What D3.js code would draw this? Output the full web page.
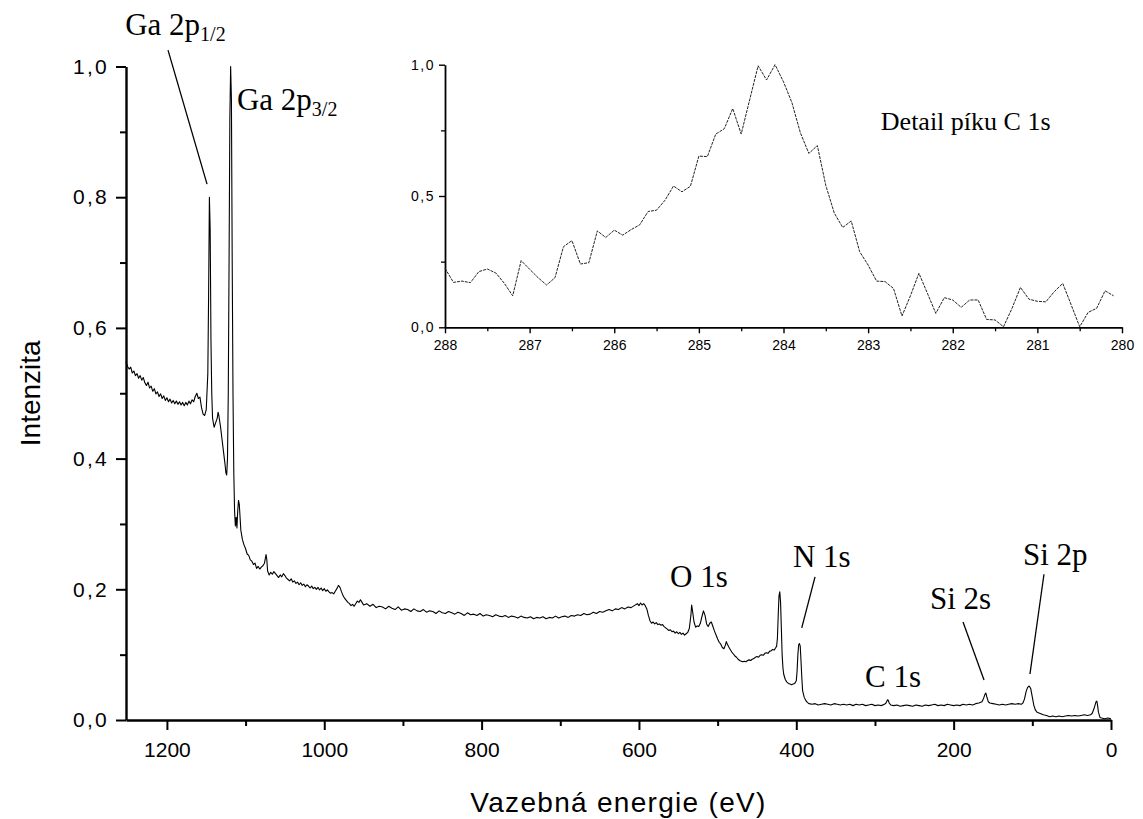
<!DOCTYPE html>
<html lang="cs">
<head>
<meta charset="UTF-8">
<title>XPS spektrum</title>
<script src="https://d3js.org/d3.v7.min.js"></script>
<style>
  body { margin: 0; background: #fff; }
  svg { display: block; background: #fff; }
  .tick text { font-family: "Liberation Sans", Arial, sans-serif; fill: #000; }
  .tick line, .domain { stroke: #000; }
  .axis-title { font-family: "Liberation Sans", Arial, sans-serif; font-size: 28px; fill: #000; }
  .peak-label { font-family: "Liberation Serif", "Times New Roman", serif; fill: #000; }
</style>
</head>
<body>
<svg id="chart" width="1143" height="819"></svg>
<script>
// survey spectrum: [binding energy (eV), normalised intensity]
const survey = [
  [1252,0.548],[1250,0.541],[1248,0.537],[1246,0.540],[1244,0.531],[1242,0.534],[1240,0.527],[1238,0.530],
  [1236,0.523],[1234,0.527],[1232,0.520],[1230,0.524],[1228,0.516],[1226,0.512],[1224,0.517],[1222,0.508],
  [1220,0.511],[1218,0.503],[1216,0.507],[1214,0.499],[1212,0.502],[1210,0.495],[1208,0.499],[1206,0.492],
  [1204,0.496],[1202,0.489],[1200,0.493],[1198,0.487],[1196,0.491],[1194,0.485],[1192,0.489],[1190,0.484],
  [1188,0.488],[1186,0.483],[1184,0.487],[1182,0.482],[1180,0.486],[1178,0.481],[1176,0.486],[1174,0.482],
  [1172,0.488],[1170,0.484],[1168,0.490],[1166,0.487],[1164,0.495],[1162,0.500],[1160,0.492],[1158,0.494],
  [1156,0.478],[1154,0.468],[1152,0.466],[1150,0.475],[1148,0.530],[1147,0.650],[1146,0.800],[1145,0.750],
  [1144,0.580],[1143,0.500],[1142,0.462],[1140,0.448],[1138,0.455],[1136,0.462],[1135,0.471],[1134,0.466],
  [1132,0.450],[1130,0.430],[1128,0.410],[1126,0.390],[1125,0.378],[1124,0.375],[1123,0.400],[1122,0.500],
  [1121,0.700],[1120,0.920],[1119,1.000],[1118,0.950],[1117,0.700],[1116,0.500],[1115,0.380],[1114,0.320],
  [1113,0.297],[1112,0.310],[1111,0.294],[1110,0.320],[1109,0.336],[1108,0.330],[1107,0.310],[1106,0.290],
  [1104,0.276],[1102,0.268],[1100,0.262],[1098,0.254],[1096,0.252],[1094,0.245],[1092,0.243],[1090,0.238],
  [1088,0.240],[1086,0.232],[1084,0.235],[1082,0.231],[1080,0.234],[1078,0.236],[1076,0.240],[1074,0.253],
  [1073,0.245],[1072,0.228],[1070,0.222],[1068,0.226],[1066,0.223],[1064,0.227],[1062,0.224],[1060,0.221],
  [1058,0.218],[1056,0.222],[1054,0.219],[1052,0.224],[1050,0.221],[1048,0.217],[1046,0.215],[1044,0.213],
  [1042,0.216],[1040,0.211],[1038,0.213],[1036,0.209],[1034,0.211],[1032,0.207],[1030,0.210],[1028,0.206],
  [1026,0.208],[1024,0.204],[1022,0.207],[1020,0.205],[1018,0.202],[1016,0.205],[1014,0.201],[1012,0.203],
  [1010,0.200],[1008,0.203],[1006,0.199],[1004,0.202],[1002,0.198],[1000,0.201],[998,0.197],[996,0.199],
  [994,0.196],[992,0.194],[990,0.195],[988,0.193],[986,0.197],[984,0.201],[982,0.206],[980,0.203],
  [978,0.196],[976,0.190],[974,0.186],[972,0.183],[970,0.180],[968,0.178],[966,0.175],[964,0.177],
  [962,0.174],[960,0.178],[958,0.182],[956,0.180],[954,0.184],[952,0.180],[950,0.176],[946,0.178],
  [942,0.174],[938,0.177],[934,0.172],[930,0.174],[926,0.173],[922,0.170],[918,0.174],[914,0.171],
  [910,0.169],[906,0.173],[902,0.168],[898,0.170],[894,0.169],[890,0.166],[886,0.170],[882,0.167],
  [878,0.166],[874,0.169],[870,0.165],[866,0.167],[862,0.166],[858,0.163],[854,0.167],[850,0.164],
  [846,0.163],[842,0.166],[838,0.164],[834,0.162],[830,0.165],[826,0.163],[822,0.160],[818,0.164],
  [814,0.161],[810,0.162],[806,0.160],[802,0.163],[798,0.159],[794,0.161],[790,0.160],[786,0.158],
  [782,0.161],[778,0.159],[774,0.158],[770,0.160],[766,0.157],[762,0.159],[758,0.158],[754,0.156],
  [750,0.159],[746,0.157],[742,0.156],[738,0.158],[734,0.155],[730,0.157],[726,0.156],[722,0.158],
  [718,0.155],[714,0.157],[710,0.156],[706,0.159],[702,0.156],[698,0.158],[694,0.159],[690,0.157],
  [686,0.160],[682,0.159],[678,0.161],[674,0.160],[670,0.163],[666,0.161],[662,0.162],[658,0.165],
  [654,0.163],[650,0.166],[646,0.165],[642,0.167],[638,0.169],[634,0.167],[630,0.170],[626,0.169],
  [622,0.172],[618,0.170],[614,0.173],[610,0.172],[606,0.175],[602,0.178],[600,0.175],[598,0.179],
  [596,0.176],[594,0.178],[592,0.175],[590,0.170],[588,0.160],[586,0.152],[584,0.148],[582,0.150],
  [580,0.147],[578,0.149],[576,0.146],[574,0.147],[572,0.145],[570,0.146],[568,0.143],[566,0.141],
  [564,0.139],[562,0.137],[560,0.138],[558,0.135],[556,0.136],[554,0.133],[552,0.135],[550,0.132],
  [548,0.134],[546,0.131],[544,0.133],[542,0.130],[540,0.132],[538,0.134],[536,0.140],[534,0.160],
  [533,0.176],[532,0.168],[530,0.150],[528,0.142],[526,0.144],[524,0.143],[522,0.148],[520,0.158],
  [518,0.167],[516,0.160],[514,0.147],[512,0.143],[510,0.148],[508,0.150],[506,0.143],[504,0.136],
  [502,0.130],[500,0.124],[498,0.119],[496,0.116],[494,0.111],[492,0.109],[490,0.115],[489,0.120],
  [488,0.117],[486,0.112],[484,0.108],[482,0.104],[480,0.101],[478,0.098],[476,0.096],[474,0.093],
  [472,0.091],[470,0.090],[468,0.089],[466,0.090],[464,0.089],[462,0.091],[460,0.092],[458,0.091],
  [456,0.093],[454,0.094],[452,0.096],[450,0.097],[448,0.096],[446,0.099],[444,0.100],[442,0.099],
  [440,0.102],[438,0.103],[436,0.102],[434,0.105],[432,0.106],[430,0.108],[428,0.107],[426,0.111],
  [425,0.113],[424,0.125],[423,0.160],[422,0.190],[421,0.196],[420,0.180],[419,0.140],[418,0.100],
  [417,0.080],[416,0.070],[414,0.062],[412,0.058],[410,0.056],[408,0.055],[406,0.054],[404,0.055],
  [402,0.056],[400,0.060],[399,0.075],[398,0.100],[397,0.115],[396,0.117],[395,0.113],[394,0.090],
  [393,0.065],[392,0.045],[390,0.035],[388,0.030],[386,0.027],[384,0.025],[380,0.024],[376,0.025],
  [372,0.023],[368,0.024],[364,0.025],[360,0.024],[356,0.023],[352,0.025],[348,0.024],[344,0.023],
  [340,0.024],[336,0.023],[332,0.024],[328,0.022],[324,0.024],[320,0.023],[316,0.024],[312,0.022],
  [308,0.023],[304,0.024],[300,0.022],[296,0.023],[292,0.022],[288,0.024],[286,0.026],[284,0.031],
  [283,0.030],[282,0.026],[280,0.023],[276,0.022],[272,0.023],[268,0.021],[264,0.022],[260,0.023],
  [256,0.022],[252,0.021],[248,0.023],[244,0.022],[240,0.021],[236,0.023],[232,0.022],[228,0.023],
  [224,0.024],[220,0.022],[216,0.023],[212,0.022],[208,0.024],[204,0.023],[200,0.022],[196,0.023],
  [192,0.022],[188,0.024],[184,0.023],[180,0.024],[176,0.023],[172,0.025],[168,0.026],[164,0.028],
  [162,0.033],[160,0.040],[159,0.041],[158,0.036],[156,0.028],[154,0.026],[150,0.025],[146,0.024],
  [142,0.023],[138,0.024],[134,0.023],[130,0.024],[126,0.025],[122,0.024],[118,0.025],[114,0.024],
  [112,0.026],[110,0.032],[108,0.043],[106,0.050],[104,0.052],[102,0.048],[100,0.035],[98,0.022],
  [96,0.015],[94,0.012],[90,0.010],[86,0.008],[82,0.007],[78,0.005],[74,0.006],[70,0.005],
  [66,0.006],[62,0.005],[58,0.006],[54,0.007],[50,0.006],[46,0.007],[42,0.006],[38,0.007],
  [34,0.008],[30,0.007],[26,0.008],[24,0.010],[22,0.016],[20,0.024],[19,0.028],[18,0.029],
  [17,0.022],[16,0.012],[14,0.004],[12,0.003],[8,0.002],[4,0.003],[0,0.002]
];

// detail of the C 1s peak
const detailEnergy = [
  288.0,287.9,287.8,287.7,287.6,287.5,287.4,287.3,287.2,287.1,287.0,286.9,286.8,286.7,286.6,286.5,
  286.4,286.3,286.2,286.1,286.0,285.9,285.8,285.7,285.6,285.5,285.4,285.3,285.2,285.1,285.0,284.9,
  284.8,284.7,284.6,284.5,284.4,284.3,284.2,284.1,284.0,283.9,283.8,283.7,283.6,283.5,283.4,283.3,
  283.2,283.1,283.0,282.9,282.8,282.7,282.6,282.5,282.4,282.3,282.2,282.1,282.0,281.9,281.8,281.7,
  281.6,281.5,281.4,281.3,281.2,281.1,281.0,280.9,280.8,280.7,280.6,280.5,280.4,280.3,280.2,280.1
];
const detailIntensity = [
  0.225,0.171,0.176,0.170,0.212,0.222,0.207,0.168,0.120,0.254,0.221,0.189,0.161,0.189,0.307,0.330,
  0.241,0.246,0.367,0.342,0.370,0.351,0.372,0.390,0.441,0.446,0.484,0.538,0.516,0.537,0.652,0.650,
  0.736,0.756,0.833,0.736,0.866,0.996,0.942,1.000,0.935,0.855,0.740,0.662,0.692,0.540,0.435,0.380,
  0.405,0.288,0.237,0.176,0.174,0.148,0.043,0.120,0.206,0.130,0.053,0.113,0.104,0.076,0.104,0.104,
  0.030,0.028,0.002,0.072,0.152,0.107,0.099,0.097,0.136,0.167,0.085,0.002,0.057,0.072,0.139,0.120
];

const mainXTicks = [1200, 1000, 800, 600, 400, 200, 0];
const mainXMinor = [1100, 900, 700, 500, 300, 100];
const mainYTicks = [0, 0.2, 0.4, 0.6, 0.8, 1.0];
const mainYMinor = [0.1, 0.3, 0.5, 0.7, 0.9];
const detailXTicks = [288, 287, 286, 285, 284, 283, 282, 281, 280];
const detailXMinor = [287.5, 286.5, 285.5, 284.5, 283.5, 282.5, 281.5, 280.5];
const detailYTicks = [0, 0.5, 1.0];
const detailYMinor = [0.25, 0.75];

// peak labels, anchored in data units [energy, intensity]
const peakLabels = [
  { name: "Ga 2p", sub: "1/2", at: [1253, 1.048], line: [[1198.6, 1.025], [1149, 0.820]] },
  { name: "Ga 2p", sub: "3/2", at: [1111, 0.933], line: null },
  { name: "O 1s", sub: "", at: [560.5, 0.2035], line: null },
  { name: "N 1s", sub: "", at: [404.2, 0.234], line: [[376.2, 0.219], [393.1, 0.141]] },
  { name: "C 1s", sub: "", at: [312.7, 0.0505], line: null },
  { name: "Si 2s", sub: "", at: [230.1, 0.170], line: [[188.1, 0.150], [161.4, 0.0612]] },
  { name: "Si 2p", sub: "", at: [111.9, 0.237], line: [[85.2, 0.223], [103.0, 0.0704]] }
];
const detailTitle = { text: "Detail píku C 1s", at: [282.85, 0.751] };

const comma = d => d3.format(".1f")(d).replace(".", ",");

const svg = d3.select("#chart");

// main plot scales
const x = d3.scaleLinear().domain([1252, 0]).range([126, 1111]);
const y = d3.scaleLinear().domain([0, 1]).range([720, 66.5]);

function styleAxis(g, width, fontSize, spacing) {
  g.select(".domain").attr("stroke", "#000").attr("stroke-width", width + 0.4);
  g.selectAll(".tick line").attr("stroke", "#000").attr("stroke-width", width);
  g.selectAll(".tick text").attr("font-size", fontSize).attr("letter-spacing", spacing);
}

// minor ticks first so major ticks draw over
svg.append("g")
  .attr("transform", "translate(0,720)")
  .call(d3.axisBottom(x).tickValues(mainXMinor).tickSize(6).tickFormat(""))
  .call(g => g.select(".domain").remove())
  .call(g => g.selectAll("line").attr("stroke", "#000").attr("stroke-width", 2));
svg.append("g")
  .attr("transform", "translate(126,0)")
  .call(d3.axisLeft(y).tickValues(mainYMinor).tickSize(6).tickFormat(""))
  .call(g => g.select(".domain").remove())
  .call(g => g.selectAll("line").attr("stroke", "#000").attr("stroke-width", 2));

svg.append("g")
  .attr("transform", "translate(0,720)")
  .call(d3.axisBottom(x).tickValues(mainXTicks).tickSize(10).tickSizeOuter(0).tickPadding(12).tickFormat(d3.format("d")))
  .call(g => styleAxis(g, 2, 21, 0));

svg.append("g")
  .attr("transform", "translate(126,0)")
  .call(d3.axisLeft(y).tickValues(mainYTicks).tickSize(10).tickSizeOuter(0).tickPadding(7).tickFormat(comma))
  .call(g => styleAxis(g, 2, 21, 2.3));

svg.append("text")
  .attr("class", "axis-title")
  .attr("x", (x.range()[0] + x.range()[1]) / 2)
  .attr("y", 812)
  .attr("text-anchor", "middle")
  .attr("letter-spacing", 1.3)
  .text("Vazebná energie (eV)");

svg.append("text")
  .attr("class", "axis-title")
  .attr("transform", `translate(40,${(y.range()[0] + y.range()[1]) / 2}) rotate(-90)`)
  .attr("text-anchor", "middle")
  .text("Intenzita");

const line = d3.line().x(d => x(d[0])).y(d => y(d[1]));
svg.append("path")
  .datum(survey)
  .attr("fill", "none")
  .attr("stroke", "#000")
  .attr("stroke-width", 1.1)
  .attr("stroke-linejoin", "round")
  .attr("d", line);

// peak annotations
peakLabels.forEach(p => {
  const t = svg.append("text")
    .attr("class", "peak-label")
    .attr("x", x(p.at[0]))
    .attr("y", y(p.at[1]))
    .attr("font-size", 31)
    .text(p.name);
  if (p.sub) {
    t.append("tspan").attr("font-size", 20).attr("dy", 6).text(p.sub);
  }
  if (p.line) {
    svg.append("line")
      .attr("x1", x(p.line[0][0])).attr("y1", y(p.line[0][1]))
      .attr("x2", x(p.line[1][0])).attr("y2", y(p.line[1][1]))
      .attr("stroke", "#000")
      .attr("stroke-width", 1.3);
  }
});

// inset with C 1s detail
const xi = d3.scaleLinear().domain([288, 280]).range([445, 1122]);
const yi = d3.scaleLinear().domain([0, 1]).range([327.3, 64.7]);

svg.append("g")
  .attr("transform", "translate(0,327.3)")
  .call(d3.axisBottom(xi).tickValues(detailXMinor).tickSize(4).tickFormat(""))
  .call(g => g.select(".domain").remove())
  .call(g => g.selectAll("line").attr("stroke", "#000").attr("stroke-width", 1.3));
svg.append("g")
  .attr("transform", "translate(445,0)")
  .call(d3.axisLeft(yi).tickValues(detailYMinor).tickSize(4).tickFormat(""))
  .call(g => g.select(".domain").remove())
  .call(g => g.selectAll("line").attr("stroke", "#000").attr("stroke-width", 1.3));

svg.append("g")
  .attr("transform", "translate(0,327.3)")
  .call(d3.axisBottom(xi).tickValues(detailXTicks).tickSize(6).tickSizeOuter(0).tickPadding(7))
  .call(g => styleAxis(g, 1.4, 14, 0));

svg.append("g")
  .attr("transform", "translate(445,0)")
  .call(d3.axisLeft(yi).tickValues(detailYTicks).tickSize(6).tickSizeOuter(0).tickPadding(4).tickFormat(comma))
  .call(g => styleAxis(g, 1.4, 14, 1.5));

const detail = detailEnergy.map((e, i) => [e, detailIntensity[i]]);
svg.append("path")
  .datum(detail)
  .attr("fill", "none")
  .attr("stroke", "#222")
  .attr("stroke-width", 1)
  .attr("stroke-dasharray", "3,1")
  .attr("d", d3.line().x(d => xi(d[0])).y(d => yi(d[1])));

svg.append("text")
  .attr("class", "peak-label")
  .attr("x", xi(detailTitle.at[0]))
  .attr("y", yi(detailTitle.at[1]))
  .attr("font-size", 26)
  .text(detailTitle.text);
</script>
</body>
</html>
